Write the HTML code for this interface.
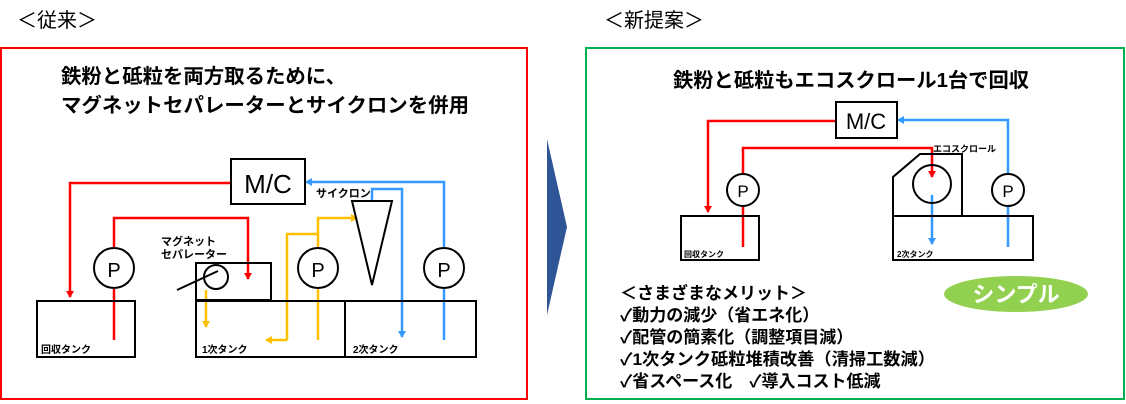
<!DOCTYPE html>
<html><head><meta charset="utf-8"><style>
html,body{margin:0;padding:0;background:#fff;}
svg{display:block;font-family:"Liberation Sans","Noto Sans CJK JP",sans-serif;}
</style></head><body>
<svg width="1126" height="404" viewBox="0 0 1126 404" xmlns="http://www.w3.org/2000/svg">
<defs>
<marker id="ar" markerWidth="8" markerHeight="8" refX="6" refY="4" orient="auto" markerUnits="userSpaceOnUse"><path d="M0,0 L7,4 L0,8 z" fill="#ff0000"/></marker>
<marker id="ay" markerWidth="8" markerHeight="8" refX="6" refY="4" orient="auto" markerUnits="userSpaceOnUse"><path d="M0,0 L7,4 L0,8 z" fill="#ffc000"/></marker>
<marker id="ab" markerWidth="8" markerHeight="8" refX="6" refY="4" orient="auto" markerUnits="userSpaceOnUse"><path d="M0,0 L7,4 L0,8 z" fill="#3399ff"/></marker>
</defs>
<text x="17" y="27" font-size="20" fill="#000">＜従来＞</text>
<text x="604" y="27" font-size="20" fill="#000">＜新提案＞</text>
<rect x="1" y="48" width="526" height="351" fill="none" stroke="#ff0000" stroke-width="2"/>
<rect x="586" y="48" width="538" height="351" fill="none" stroke="#00b050" stroke-width="2"/>
<polygon points="547,139 567,227 547,315" fill="#2f5597"/>
<text x="61" y="83" font-size="20" font-weight="bold" textLength="285" lengthAdjust="spacingAndGlyphs">鉄粉と砥粒を両方取るために、</text>
<text x="61" y="112" font-size="20" font-weight="bold" textLength="408" lengthAdjust="spacingAndGlyphs">マグネットセパレーターとサイクロンを併用</text>
<text x="673" y="87" font-size="20" font-weight="bold" textLength="356" lengthAdjust="spacingAndGlyphs">鉄粉と砥粒もエコスクロール1台で回収</text>

<g fill="none" stroke-width="2.5">
<polyline points="231,183 70,183 70,297" stroke="#ff0000" marker-end="url(#ar)"/>
<polyline points="114,248 114,218 248,218 248,279" stroke="#ff0000" marker-end="url(#ar)"/>
<line x1="114" y1="288" x2="114" y2="340" stroke="#ff0000"/>
<polyline points="206,290 206,327" stroke="#ffc000" marker-end="url(#ay)"/>
<polyline points="287,340 287,234 318,234" stroke="#ffc000"/>
<polyline points="287,340 266,340" stroke="#ffc000" marker-end="url(#ay)"/>
<polyline points="318,248 318,218 357,218" stroke="#ffc000" marker-end="url(#ay)"/>
<line x1="318" y1="288" x2="318" y2="340" stroke="#ffc000"/>
<polyline points="372,201 372,189 402,189 402,337" stroke="#3399ff" marker-end="url(#ab)"/>
<polyline points="444,248 444,182 306,182" stroke="#3399ff" marker-end="url(#ab)"/>
<line x1="444" y1="288" x2="444" y2="340" stroke="#3399ff"/>
</g>
<g fill="none" stroke="#000" stroke-width="2">
<rect x="231" y="159" width="74" height="45" fill="#fff"/>
<rect x="37" y="301" width="98" height="56"/>
<rect x="196" y="263" width="75" height="37"/>
<rect x="196" y="301" width="149" height="56"/>
<rect x="345" y="301" width="131" height="56"/>
<circle cx="114" cy="268" r="20" fill="#fff"/>
<circle cx="318" cy="268" r="20" fill="#fff"/>
<circle cx="444" cy="268" r="20" fill="#fff"/>
<circle cx="216" cy="277" r="12"/>
<line x1="177" y1="290" x2="218" y2="271"/>
<polygon points="352,201 392,201 372,285"/>
</g>
<text x="268" y="193" font-size="26" text-anchor="middle">M/C</text>
<text x="114" y="277" font-size="20" text-anchor="middle">P</text>
<text x="318" y="277" font-size="20" text-anchor="middle">P</text>
<text x="444" y="277" font-size="20" text-anchor="middle">P</text>
<text x="161" y="245" font-size="11" font-weight="bold">マグネット</text>
<text x="161" y="258" font-size="11" font-weight="bold">セパレーター</text>
<text x="316" y="197" font-size="11" font-weight="bold">サイクロン</text>
<text x="41" y="353" font-size="10" font-weight="bold">回収タンク</text>
<text x="202" y="353" font-size="10" font-weight="bold">1次タンク</text>
<text x="353" y="353" font-size="10" font-weight="bold">2次タンク</text>

<!-- right -->
<g fill="none" stroke-width="2.5">
<polyline points="836,121 708,121 708,212" stroke="#ff0000" marker-end="url(#ar)"/>
<polyline points="743,174 743,148 932,148 932,177" stroke="#ff0000" marker-end="url(#ar)"/>
<line x1="743" y1="206" x2="743" y2="247" stroke="#ff0000"/>
<polyline points="932,195 932,244" stroke="#3399ff" marker-end="url(#ab)"/>
<polyline points="1008,174 1008,120 898,120" stroke="#3399ff" marker-end="url(#ab)"/>
<line x1="1008" y1="206" x2="1008" y2="247" stroke="#3399ff"/>
</g>
<g fill="none" stroke="#000" stroke-width="2">
<rect x="836" y="102" width="61" height="36" fill="#fff"/>
<rect x="681" y="216" width="78" height="44"/>
<polygon points="893,216 893,177 920,154 962,154 962,216"/>
<rect x="893" y="216" width="140" height="44"/>
<circle cx="932" cy="184" r="19"/>
<circle cx="743" cy="190" r="16" fill="#fff"/>
<circle cx="1008" cy="190" r="16" fill="#fff"/>
</g>
<text x="866" y="129" font-size="22" text-anchor="middle">M/C</text>
<text x="743" y="197" font-size="17" text-anchor="middle">P</text>
<text x="1008" y="197" font-size="17" text-anchor="middle">P</text>
<text x="933" y="152" font-size="9" font-weight="bold">エコスクロール</text>
<text x="684" y="257" font-size="8" font-weight="bold">回収タンク</text>
<text x="897" y="257" font-size="8" font-weight="bold">2次タンク</text>
<ellipse cx="1016" cy="294" rx="72" ry="18" fill="#92d050"/>
<text x="1016" y="302" font-size="22" font-weight="bold" fill="#fff" text-anchor="middle">シンプル</text>
<g font-size="17" font-weight="bold">
<text x="620" y="299">＜さまざまなメリット＞</text>
<text x="620" y="321">✓動力の減少（省エネ化）</text>
<text x="620" y="343">✓配管の簡素化（調整項目減）</text>
<text x="620" y="365" textLength="315" lengthAdjust="spacingAndGlyphs">✓1次タンク砥粒堆積改善（清掃工数減）</text>
<text x="620" y="387">✓省スペース化　✓導入コスト低減</text>
</g>
</svg>
</body></html>
